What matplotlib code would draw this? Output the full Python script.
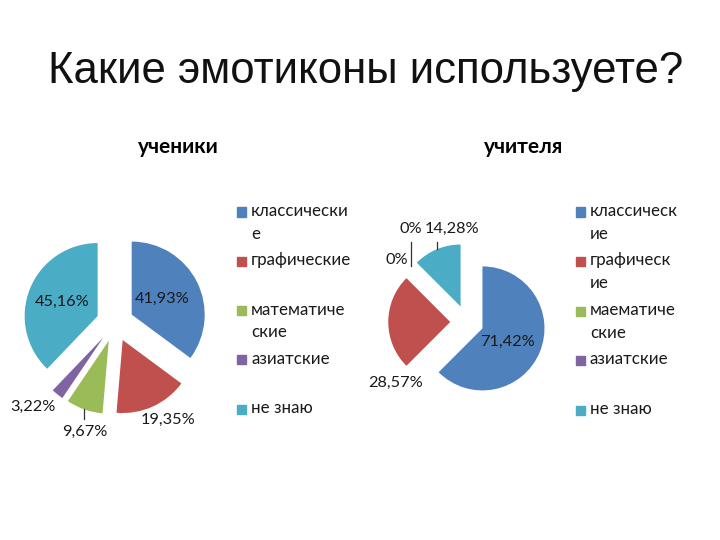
import numpy as np
import matplotlib
matplotlib.use('Agg')
import matplotlib.pyplot as plt
from matplotlib.patches import Rectangle


# Data
title = 'Какие эмотиконы используете?'
colors = ['#4F81BD', '#C0504D', '#9BBB59', '#8064A2', '#4BACC6']

pupils_title = 'ученики'
pupils_values = [41.93, 19.35, 9.67, 3.22, 45.16]
pupils_labels = ['41,93%', '19,35%', '9,67%', '3,22%', '45,16%']
pupils_legend = ['классически\nе', 'графические', 'математиче\nские', 'азиатские', 'не знаю']

teachers_title = 'учителя'
teachers_values = [71.42, 28.57, 0, 0, 14.28]
teachers_labels = ['71,42%', '28,57%', '0%', '0%', '14,28%']
teachers_legend = ['классическ\nие', 'графическ\nие', 'маематиче\nские', 'азиатские', 'не знаю']

# Layout (pixels / radius units)
W, H = 720, 540
FONT = ['Lato', 'DejaVu Sans']


def fx(x):
    return x / W


def fy(y):
    return 1 - y / H


def draw_pie(cx, cy, r, explode, values, labels, label_pos, leaders):
    ax = plt.gcf().add_axes([fx(cx - 1.5 * r), fy(cy + 1.5 * r), 3 * r / W, 3 * r / H])
    wedges, _ = ax.pie(values, colors=colors, startangle=90, counterclock=False,
                       explode=[explode] * len(values), radius=1,
                       wedgeprops=dict(linewidth=0))
    ax.set_xlim(-1.5, 1.5)
    ax.set_ylim(-1.5, 1.5)
    ax.set_aspect('equal')
    ax.axis('off')
    for i, (w, lab) in enumerate(zip(wedges, labels)):
        lx, ly = label_pos[i]
        ax.text(lx, ly, lab, ha='center', va='center', fontsize=11.8,
                color='#1a1a1a', family=FONT, clip_on=False)
        if leaders[i]:
            mid = np.deg2rad((w.theta1 + w.theta2) / 2)
            ex = w.center[0] + np.cos(mid)
            ey = w.center[1] + np.sin(mid)
            gap = 13 / r
            end = ly + gap if ly < ey else ly - gap
            ax.plot([ex, ex], [ey, end], color='#333333', lw=0.9, clip_on=False)
    return ax


def draw_legend(x, y0, step, entries):
    fig = plt.gcf()
    for i, (lab, c) in enumerate(zip(entries, colors)):
        y = y0 + i * step
        fig.patches.append(Rectangle((fx(x), fy(y + 4.5)), 9 / W, 9 / H,
                                     transform=fig.transFigure, color=c))
        fig.text(fx(x + 14), fy(y - 9), lab, ha='left', va='top', fontsize=12.2,
                 family=FONT, linespacing=1.5, color='#1a1a1a')


fig = plt.figure(figsize=(7.2, 5.4), dpi=100)

fig.text(fx(366), fy(71), title, ha='center', va='center', fontsize=31.5,
         family=['Liberation Sans', 'DejaVu Sans'], color='#111111')

fig.text(fx(178), fy(147), pupils_title, ha='center', va='center', fontsize=15,
         fontweight='bold', family=FONT)
fig.text(fx(524), fy(147), teachers_title, ha='center', va='center', fontsize=15,
         fontweight='bold', family=FONT)

draw_pie(115, 323, 73, 0.256, pupils_values, pupils_labels,
         [(0.65, 0.33), (0.73, -1.33), (-0.41, -1.49), (-1.12, -1.15), (-0.73, 0.29)],
         [False, False, True, False, False])
draw_pie(467, 322, 62, 0.27, teachers_values, teachers_labels,
         [(0.66, -0.32), (-1.15, -0.98), (-1.13, 1.0), (-0.90, 1.50), (-0.24, 1.50)],
         [False, False, False, True, True])

draw_legend(237, 212, 49.3, pupils_legend)
draw_legend(576, 212, 49.5, teachers_legend)

fig.savefig('out.png', dpi=100, facecolor='white')
